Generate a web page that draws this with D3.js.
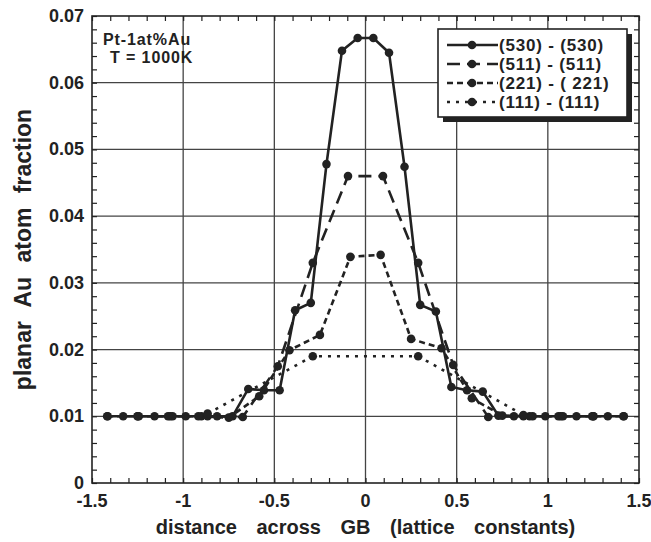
<!DOCTYPE html>
<html>
<head>
<meta charset="utf-8">
<script src="https://cdn.jsdelivr.net/npm/d3@7"></script>
<style>
  body { margin: 0; background: #fff; }
  text { font-family: "Liberation Sans", Arial, sans-serif; font-weight: bold; fill: #222; }
</style>
</head>
<body>
<div id="chart"></div>
<script>
// data
var x530 = [-1.414,-1.329,-1.243,-1.157,-1.071,-0.986,-0.9,-0.814,-0.729,-0.643,-0.557,-0.471,-0.386,-0.3,-0.214,-0.129,-0.043,
            0.043,0.129,0.214,0.3,0.386,0.471,0.557,0.643,0.729,0.814,0.9,0.986,1.071,1.157,1.243,1.329,1.414];
var y530 = [0.01,0.01,0.01,0.01,0.01,0.01,0.01,0.01,0.01,0.0141,0.0139,0.0139,0.0259,0.027,0.0478,0.0648,0.0667,
            0.0667,0.0645,0.0474,0.0267,0.0257,0.0144,0.0139,0.0137,0.0101,0.01,0.01,0.01,0.01,0.01,0.01,0.01,0.01];
var x511 = [-1.25,-1.058,-0.866,-0.673,-0.481,-0.289,-0.096,0.096,0.289,0.481,0.673,0.866,1.058,1.25];
var y511 = [0.01,0.01,0.01,0.0099,0.0175,0.033,0.046,0.046,0.033,0.0177,0.0099,0.01,0.01,0.01];
var x221 = [-1.417,-1.25,-1.083,-0.917,-0.75,-0.583,-0.417,-0.25,-0.083,0.083,0.25,0.417,0.583,0.75,0.917,1.083,1.25,1.417];
var y221 = [0.01,0.01,0.01,0.01,0.0098,0.013,0.0199,0.0222,0.0339,0.0342,0.0216,0.0202,0.0127,0.0101,0.01,0.01,0.01,0.01];
var x111 = [-0.866,-0.289,0.289,0.866];
var y111 = [0.0104,0.019,0.019,0.0102];

var seriesNames = ["(530) - (530)", "(511) - (511)", "(221) - ( 221)", "(111) - (111)"];
var xTicks = [-1.5,-1,-0.5,0,0.5,1,1.5];
var yTicks = [0,0.01,0.02,0.03,0.04,0.05,0.06,0.07];

var series = [
  { name: seriesNames[0], xs: x530, ys: y530, dash: null },
  { name: seriesNames[1], xs: x511, ys: y511, dash: "13,7" },
  { name: seriesNames[2], xs: x221, ys: y221, dash: "6,4" },
  { name: seriesNames[3], xs: x111, ys: y111, dash: "3,6" }
];

var svgWidth = 651, svgHeight = 542;
var margin = { top: 16, left: 92 };
var width = 547, height = 467;
var ink = "#222";

var svg = d3.select("#chart").append("svg")
  .attr("width", svgWidth).attr("height", svgHeight);

var g = svg.append("g").attr("transform", `translate(${margin.left},${margin.top})`);

var x = d3.scaleLinear().domain([-1.5, 1.5]).range([0, width]);
var y = d3.scaleLinear().domain([0, 0.07]).range([height, 0]);

// grid
g.selectAll(".vgrid").data(xTicks.slice(1, -1)).enter().append("line")
  .attr("x1", d => x(d)).attr("x2", d => x(d)).attr("y1", 0).attr("y2", height)
  .attr("stroke", "#444").attr("stroke-width", 1.3);
g.selectAll(".hgrid").data(yTicks.slice(1, -1)).enter().append("line")
  .attr("y1", d => y(d)).attr("y2", d => y(d)).attr("x1", 0).attr("x2", width)
  .attr("stroke", "#444").attr("stroke-width", 1.3);

// minor ticks, all four sides, pointing in
var xMinor = d3.range(-15, 16).map(i => i / 10);
var yMinor = d3.range(0, 36).map(i => i * 0.002);
var tickLen = 5;
g.append("g").call(d3.axisBottom(x).tickValues(xMinor).tickSize(-tickLen).tickFormat(""))
  .attr("transform", `translate(0,${height})`);
g.append("g").call(d3.axisTop(x).tickValues(xMinor).tickSize(-tickLen).tickFormat(""));
g.append("g").call(d3.axisLeft(y).tickValues(yMinor).tickSize(-tickLen).tickFormat(""));
g.append("g").call(d3.axisRight(y).tickValues(yMinor).tickSize(-tickLen).tickFormat(""))
  .attr("transform", `translate(${width},0)`);
g.selectAll(".domain").remove();
g.selectAll(".tick line").attr("stroke", ink).attr("stroke-width", 1.2);

// frame
g.append("rect").attr("width", width).attr("height", height)
  .attr("fill", "none").attr("stroke", ink).attr("stroke-width", 1.6);

// tick labels
g.selectAll(".xlab").data(xTicks).enter().append("text")
  .attr("x", d => x(d)).attr("y", height + 24)
  .attr("text-anchor", "middle").attr("font-size", "18px")
  .text(d => d);
g.selectAll(".ylab").data(yTicks).enter().append("text")
  .attr("x", -8).attr("y", d => y(d) + 6)
  .attr("text-anchor", "end").attr("font-size", "18px")
  .text(d => d === 0 ? "0" : d3.format(".2f")(d));

// lines + markers
var line = d3.line().x(d => x(d[0])).y(d => y(d[1]));
series.forEach(function(s) {
  var pts = s.xs.map((v, i) => [v, s.ys[i]]);
  g.append("path").datum(pts).attr("d", line)
    .attr("fill", "none").attr("stroke", ink).attr("stroke-width", 2.6)
    .attr("stroke-dasharray", s.dash);
  g.selectAll(null).data(pts).enter().append("circle")
    .attr("cx", d => x(d[0])).attr("cy", d => y(d[1]))
    .attr("r", 4.3).attr("fill", ink);
});

// annotation
g.append("text").attr("x", 11).attr("y", 29).attr("font-size", "16px")
  .attr("letter-spacing", "0.9px").text("Pt-1at%Au");
g.append("text").attr("x", 18).attr("y", 47).attr("font-size", "16px")
  .attr("letter-spacing", "0.9px").text("T = 1000K");

// legend
var lg = svg.append("g").attr("transform", "translate(438,29)");
lg.append("rect").attr("x", 5).attr("y", 5).attr("width", 189).attr("height", 88).attr("fill", ink);
lg.append("rect").attr("width", 189).attr("height", 88).attr("fill", "#fff")
  .attr("stroke", ink).attr("stroke-width", 1.6);
series.forEach(function(s, i) {
  var cy = 16 + i * 19;
  lg.append("line").attr("x1", 9).attr("x2", 60).attr("y1", cy).attr("y2", cy)
    .attr("stroke", ink).attr("stroke-width", 2.6).attr("stroke-dasharray", s.dash);
  lg.append("circle").attr("cx", 34).attr("cy", cy).attr("r", 4.3).attr("fill", ink);
  lg.append("text").attr("x", 61).attr("y", cy + 6).attr("font-size", "17px")
    .attr("letter-spacing", "0.8px").text(s.name);
});

// axis titles
svg.append("text").attr("x", margin.left + width / 2).attr("y", 534)
  .attr("text-anchor", "middle").attr("font-size", "20px").attr("word-spacing", "14px")
  .text("distance across GB (lattice constants)");
svg.append("text").attr("transform", `translate(31,${margin.top + height / 2}) rotate(-90)`)
  .attr("text-anchor", "middle").attr("font-size", "23px").attr("word-spacing", "8px")
  .text("planar Au atom fraction");
</script>
</body>
</html>
